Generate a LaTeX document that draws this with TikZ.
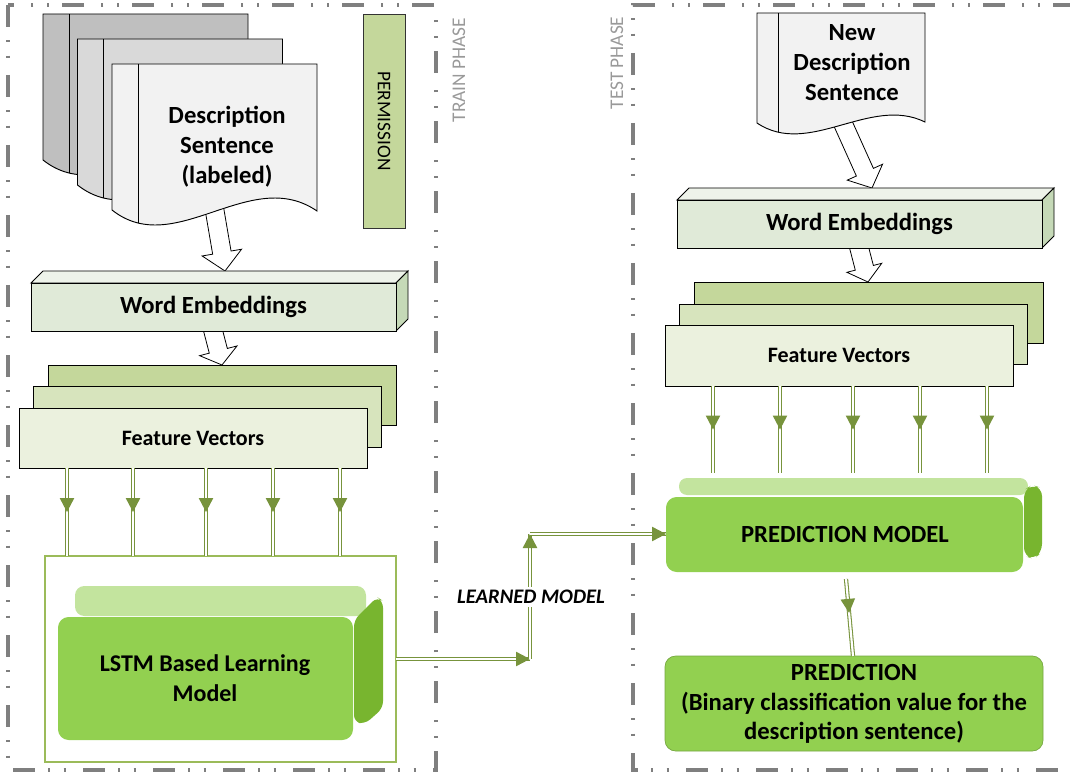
\documentclass[tikz,border=0pt]{standalone}
\usepackage{fontspec}
\setmainfont{Carlito}
\usetikzlibrary{calc,fit,decorations.markings}

\definecolor{framegray}{HTML}{7F7F7F}
\definecolor{phasegray}{HTML}{999999}
\definecolor{docdark}{HTML}{BFBFBF}
\definecolor{docmid}{HTML}{D9D9D9}
\definecolor{doclight}{HTML}{F2F2F2}
\definecolor{olive1}{HTML}{C4D79B}
\definecolor{olive2}{HTML}{D7E4BD}
\definecolor{olive3}{HTML}{EBF1DE}
\definecolor{wefront}{HTML}{E0EAD8}
\definecolor{wetop}{HTML}{EEF3EA}
\definecolor{weside}{HTML}{C5D9B7}
\definecolor{leaf}{HTML}{92D050}
\definecolor{leaflight}{HTML}{C3E49E}
\definecolor{leafdark}{HTML}{78B52F}
\definecolor{arrowgreen}{HTML}{77933C}
\definecolor{boxgreen}{HTML}{9BBB59}

\tikzset{
  phaseframe/.style={draw=framegray, line width=2.6pt,
    dash pattern=on 16.5pt off 10pt on 1.5pt off 10pt on 1.5pt off 13pt},
  phaselabel/.style={text=phasegray, font=\fontsize{14.5}{17}\selectfont, inner sep=0pt},
  sheet/.style={draw=black, line width=0.7pt},
  boldtext/.style={font=\bfseries\fontsize{18.5}{22.5}\selectfont, align=center, inner sep=0pt},
  fvtext/.style={font=\bfseries\fontsize{16.5}{20}\selectfont, inner sep=0pt},
  hollow/.style={draw=black, fill=white, line width=0.6pt, line join=miter},
  gline/.style={draw=arrowgreen, line width=0.8pt, double=white, double distance=1.6pt},
  ghead/.style={postaction={decorate, decoration={markings,
    mark=at position #1 with {\fill[arrowgreen] (0pt,0pt) -- (-10.5pt,5.5pt) -- (-10.5pt,-5.5pt) -- cycle;}}}},
  area/.style={inner sep=0pt, outer sep=0pt},
}

% hollow block arrow: tail, tip, shaft half width, head half width, head length
\newcommand\hollowarrow[5]{%
  \coordinate (hb) at ($(#2)!#5!(#1)$);
  \draw[hollow] ($(#1)!#3!90:(#2)$) -- ($(hb)!#3!-90:(#1)$) -- ($(hb)!#4!-90:(#1)$)
    -- (#2) -- ($(hb)!#4!90:(#1)$) -- ($(hb)!#3!90:(#1)$) -- ($(#1)!#3!-90:(#2)$) -- cycle;
}
% outline of a large document sheet and of the small one
\newcommand\bigsheet{(0,0) -- (205,0) -- (205,147) .. controls (138,101) and (63,196) .. (0,146) -- cycle}
\newcommand\smallsheet{(0,0) -- (168,0) -- (168,109) .. controls (113,82) and (52,145) .. (0,110) -- cycle}

\begin{document}
\begin{tikzpicture}[x=0.75pt,y=-0.75pt]
\useasboundingbox (0,0) rectangle (1070,773);

% phase frames
\draw[phaseframe] (8,5) rectangle (436,770);
\draw[phaseframe] (1075,5) -- (633,5) -- (633,770) -- (1075,770);
\node[phaselabel, rotate=90] (train) at (459,70) {TRAIN PHASE};
\node[phaselabel, rotate=90] (test) at (617,63) {TEST PHASE};

% ---------------- train phase ----------------
% arrows between the upper blocks (drawn first, blocks cover their tails)
\coordinate (docLout) at (212,195);
\coordinate (weLin) at (225,271);
\hollowarrow{docLout}{weLin}{7pt}{15pt}{14pt}
\coordinate (weLout) at (209,315);
\coordinate (fvLin) at (222,365);
\hollowarrow{weLout}{fvLin}{7pt}{14.5pt}{11pt}

% stack of labelled description sheets
\foreach \dx/\dy/\col in {43/14/docdark, 77.5/39/docmid, 112/64/doclight}{
  \begin{scope}[shift={(\dx,\dy)}]
    \fill[\col] \bigsheet;
    \begin{scope}
      \clip \bigsheet;
      \draw[line width=0.7pt] (26,0) -- (26,230);
    \end{scope}
    \draw[sheet] \bigsheet;
  \end{scope}
}
\node[area, fit={(112,64)(317,211)}] (docL) {};
\node[boldtext] (docLtext) at (227,147) {Description\\Sentence\\(labeled)};

% permission bar
\filldraw[fill=olive1, draw=black!80, line width=0.6pt] (363,14) rectangle (405,228);
\node[area, fit={(363,14)(405,228)}] (perm) {};
\node[rotate=-90, font=\fontsize{14.5}{17}\selectfont, inner sep=0pt] at (perm.center) {PERMISSION};

% word embeddings block
\begin{scope}[shift={(31,283)}]
  \filldraw[fill=wetop, sheet] (0,0) -- (12,-12) -- (377,-12) -- (365,0) -- cycle;
  \filldraw[fill=weside, sheet] (365,0) -- (377,-12) -- (377,36) -- (365,48) -- cycle;
  \filldraw[fill=wefront, sheet] (0,0) rectangle (365,48);
\end{scope}
\node[area, fit={(31,283)(396,331)}] (weL) {};
\node[boldtext] at (weL.center) {Word Embeddings};

% feature vectors stack
\filldraw[fill=olive1, sheet] (48,365) rectangle (396,425);
\filldraw[fill=olive2, sheet] (33,386) rectangle (381,447);
\filldraw[fill=olive3, sheet] (19,408) rectangle (367,468);
\node[area, fit={(19,408)(367,468)}] (fvL) {};
\node[fvtext] at (fvL.center) {Feature Vectors};

% LSTM learning model
\draw[draw=boxgreen, line width=0.8pt, fill=white] (45,556) rectangle (396,762);
\node[area, fit={(45,556)(396,762)}] (lstmbox) {};
\fill[leaflight, rounded corners=7pt] (75,586) rectangle (366,616);
\fill[leaf, rounded corners=8pt] (58,617) rectangle (353,740);
\fill[leafdark, rounded corners=5pt] (354,620) -- (377,597) -- (383,601) -- (383,708) -- (365,724) -- (354,722) -- cycle;
\node[boldtext, font=\bfseries\fontsize{18}{22}\selectfont] (lstm) at (205,678) {LSTM Based Learning\\Model};

\foreach \x in {67,133,206,273,340}
  \draw[gline, ghead=0.5] (\x,0 |- fvL.south) -- (\x,0 |- lstmbox.north);

% ---------------- test phase ----------------
\coordinate (docRout) at (836,108);
\coordinate (weRin) at (872,188);
\hollowarrow{docRout}{weRin}{7pt}{14.5pt}{13pt}
\coordinate (weRout) at (854,228);
\coordinate (fvRin) at (868,282);
\hollowarrow{weRout}{fvRin}{7pt}{13.5pt}{11pt}

% new description sheet
\begin{scope}[shift={(757,13)}]
  \fill[doclight] \smallsheet;
  \begin{scope}
    \clip \smallsheet;
    \draw[line width=0.7pt] (21,0) -- (21,160);
  \end{scope}
  \draw[sheet] \smallsheet;
\end{scope}
\node[area, fit={(757,13)(925,123)}] (docR) {};
\node[boldtext] at (852,63) {New\\Description\\Sentence};

% word embeddings block
\begin{scope}[shift={(677,200)}]
  \filldraw[fill=wetop, sheet] (0,0) -- (12,-12) -- (377,-12) -- (365,0) -- cycle;
  \filldraw[fill=weside, sheet] (365,0) -- (377,-12) -- (377,36) -- (365,48) -- cycle;
  \filldraw[fill=wefront, sheet] (0,0) rectangle (365,48);
\end{scope}
\node[area, fit={(677,200)(1042,248)}] (weR) {};
\node[boldtext] at (weR.center) {Word Embeddings};

% feature vectors stack
\filldraw[fill=olive1, sheet] (694,282) rectangle (1043,343);
\filldraw[fill=olive2, sheet] (679,304) rectangle (1027,364);
\filldraw[fill=olive3, sheet] (665,325) rectangle (1013,386);
\node[area, fit={(665,325)(1013,386)}] (fvR) {};
\node[fvtext] at (fvR.center) {Feature Vectors};

% prediction model
\fill[leaflight, rounded corners=6pt] (679,478) rectangle (1028,495);
\fill[leaf, rounded corners=8pt] (666,497) rectangle (1023,572);
\fill[leafdark, rounded corners=6pt] (1024,490) -- (1032,485) -- (1042,488) -- (1042,552) -- (1034,559) -- (1024,556) -- cycle;
\node[area, fit={(666,497)(1023,572)}] (predmodel) {};
\node[boldtext] at (845,534) {PREDICTION MODEL};

\foreach \x in {713,780,853,920,987}
  \draw[gline, ghead=0.5] (\x,0 |- fvR.south) -- (\x,473);

% prediction result
\filldraw[fill=leaf, draw=leaf!80!black, line width=0.5pt, rounded corners=8pt] (665,656) rectangle (1043,751);
\node[area, fit={(665,656)(1043,751)}] (pred) {};
\node[boldtext, font=\bfseries\fontsize{18.5}{22}\selectfont] at (854,704)
  {PREDICTION\\(Binary classification value for the\\description sentence)};

\coordinate (pmout) at (846,579);
\draw[gline, ghead=0.44] (pmout) -- (853,0 |- pred.north);

% learned model hand-over
\coordinate (bendA) at (530,659);
\coordinate (bendB) at (530,534);
\draw[gline, ghead=1] (lstmbox.east |- bendA) -- (bendA);
\draw[gline, ghead=1] (bendA) -- (bendB);
\draw[gline, ghead=1] (bendB) -- (predmodel.west |- bendB);
\node[fill=white, inner sep=2pt, font=\bfseries\itshape\fontsize{15.5}{18}\selectfont] (learned) at (531,597) {LEARNED MODEL};

\end{tikzpicture}
\end{document}
